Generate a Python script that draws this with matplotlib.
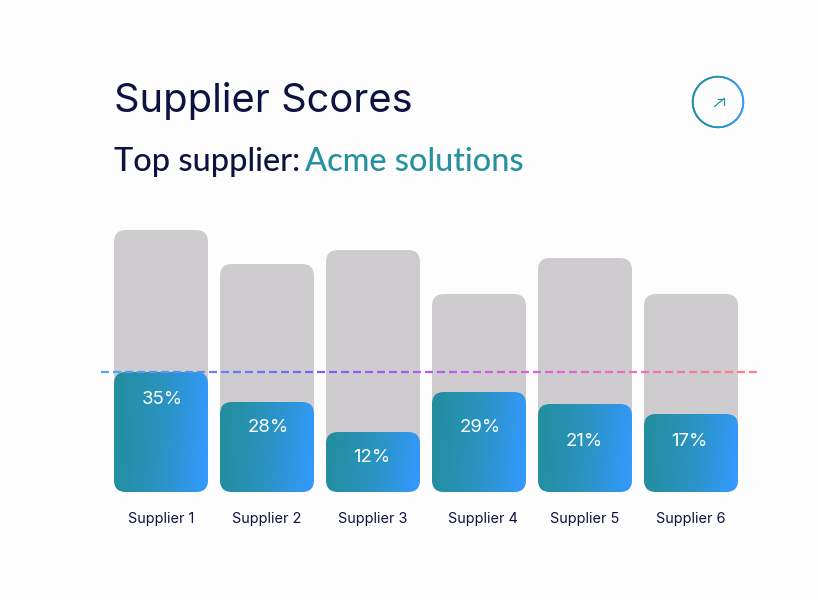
import numpy as np
import matplotlib
matplotlib.use('Agg')
import matplotlib.pyplot as plt
from matplotlib.collections import LineCollection
from matplotlib.colors import LinearSegmentedColormap
from matplotlib.patches import FancyBboxPatch
from matplotlib.transforms import IdentityTransform, ScaledTranslation

suppliers = ['Supplier 1', 'Supplier 2', 'Supplier 3', 'Supplier 4', 'Supplier 5', 'Supplier 6']
totals = [262, 228, 242, 198, 234, 198]
scores = [120, 90, 60, 100, 88, 78]
score_labels = ['35%', '28%', '12%', '29%', '21%', '17%']
threshold = 120

# label nudges in pixels, the reference does not centre them evenly
label_dx = [1, 1, -1, 1, -1, -2]
label_dy = [-27, -25, -25, -35, -37, -27]

NAVY = '#0e1240'
TEAL = '#25909f'
GREY = '#cecccf'
W, H = 818, 600

bar_cmap = LinearSegmentedColormap.from_list('bar', ['#238e9f', '#2a93c0', '#3399fb'])
line_cmap = LinearSegmentedColormap.from_list('line', ['#4aa8f5', '#7f5cff', '#e060d8', '#ff7f8a'])

fig = plt.figure(figsize=(W / 100, H / 100), dpi=100, facecolor='#fdfdfd')

bg = fig.add_axes([0, 0, 1, 1])
bg.set_xlim(0, W)
bg.set_ylim(H, 0)
bg.axis('off')

ax = fig.add_axes([108 / W, (H - 492) / H, 636 / W, 280 / H])
ax.set_xlim(-0.5, 5.5)
ax.set_ylim(0, 280)
ax.patch.set_alpha(0)
for s in ax.spines.values():
    s.set_visible(False)
ax.tick_params(length=0, pad=14.5)
ax.set_yticks([])
ax.set_xticks(range(len(suppliers)))
ax.set_xticklabels(suppliers, fontsize=10.4, color=NAVY, family='Inter')

# Supplier 4 sits a little right of its bar in the reference
tick4 = ax.get_xticklabels()[3]
tick4.set_transform(tick4.get_transform() + ScaledTranslation(4 / 100, 0, fig.dpi_scale_trans))


def rounded(x, h, width=94 / 106, rad=12):
    # rounded box in pixels so the corners stay circular
    x0, y0 = ax.transData.transform((x - width / 2, 0))
    x1, y1 = ax.transData.transform((x + width / 2, h))
    return FancyBboxPatch((x0 + rad, y0 + rad), x1 - x0 - 2 * rad, y1 - y0 - 2 * rad,
                          boxstyle='round,pad=%d,rounding_size=%d' % (rad, rad),
                          transform=IdentityTransform(), linewidth=0)


grad = np.linspace(0, 1, 200)[None, :] + np.linspace(-0.04, 0.04, 40)[:, None]
for i, (total, score, label) in enumerate(zip(totals, scores, score_labels)):
    back = rounded(i, total)
    back.set_facecolor(GREY)
    ax.add_patch(back)

    front = rounded(i, score)
    front.set_facecolor('none')
    ax.add_patch(front)
    im = ax.imshow(grad, extent=(i - 47 / 106, i + 47 / 106, 0, score), cmap=bar_cmap,
                   vmin=0, vmax=1, aspect='auto', zorder=2)
    im.set_clip_path(front)
    ax.annotate(label, (i, score), xytext=(label_dx[i], label_dy[i]), textcoords='offset pixels',
                ha='center', va='center', color='white', fontsize=13.4, family='Inter', zorder=4)
ax.set_xlim(-0.5, 5.5)
ax.set_ylim(0, 280)

# dashed threshold line, one colour per dash
dash_x = np.arange(-0.565, 5.62, 12 / 106)
segs = [[(x, threshold), (x + 7.5 / 106, threshold)] for x in dash_x]
lc = LineCollection(segs, colors=line_cmap(np.linspace(0, 1, len(segs))), linewidths=1.6,
                    zorder=5, clip_on=False)
ax.add_collection(lc)

# titles
fig.text(114 / W, 1 - 101 / H, 'Supplier Scores', fontsize=28.7, color=NAVY, family='Inter',
         va='center', ha='left')
t1 = fig.text(114 / W, 1 - 162 / H, 'Top supplier:', fontsize=23.4, color=NAVY, family='Lato',
              weight='medium', va='center', ha='left')
fig.canvas.draw()
box = t1.get_window_extent()
fig.text((box.x1 + 5) / W, 1 - 162 / H, 'Acme solutions', fontsize=23.4, color=TEAL, family='Lato',
         weight='medium', va='center', ha='left')

# round icon, ring drawn as short arcs so the gradient stays smooth
cx, cy, r = 718, 102, 25.3
theta = np.linspace(0, 2 * np.pi, 181)
px, py = cx + r * np.cos(theta), cy + r * np.sin(theta)
arcs = [[(px[k], py[k]), (px[k + 1], py[k + 1])] for k in range(180)]
arc_colors = bar_cmap((px[:-1] - (cx - r)) / (2 * r))
bg.add_collection(LineCollection(arcs, colors=arc_colors, linewidths=1.3, capstyle='round'))
bg.plot([714.5, 724], [106.5, 98.5], color=TEAL, lw=0.9)
bg.plot([717.5, 724, 724], [98.5, 98.5, 105], color=TEAL, lw=0.9)
bg.set_xlim(0, W)
bg.set_ylim(H, 0)

fig.savefig('out.png', dpi=100, facecolor=fig.get_facecolor())
